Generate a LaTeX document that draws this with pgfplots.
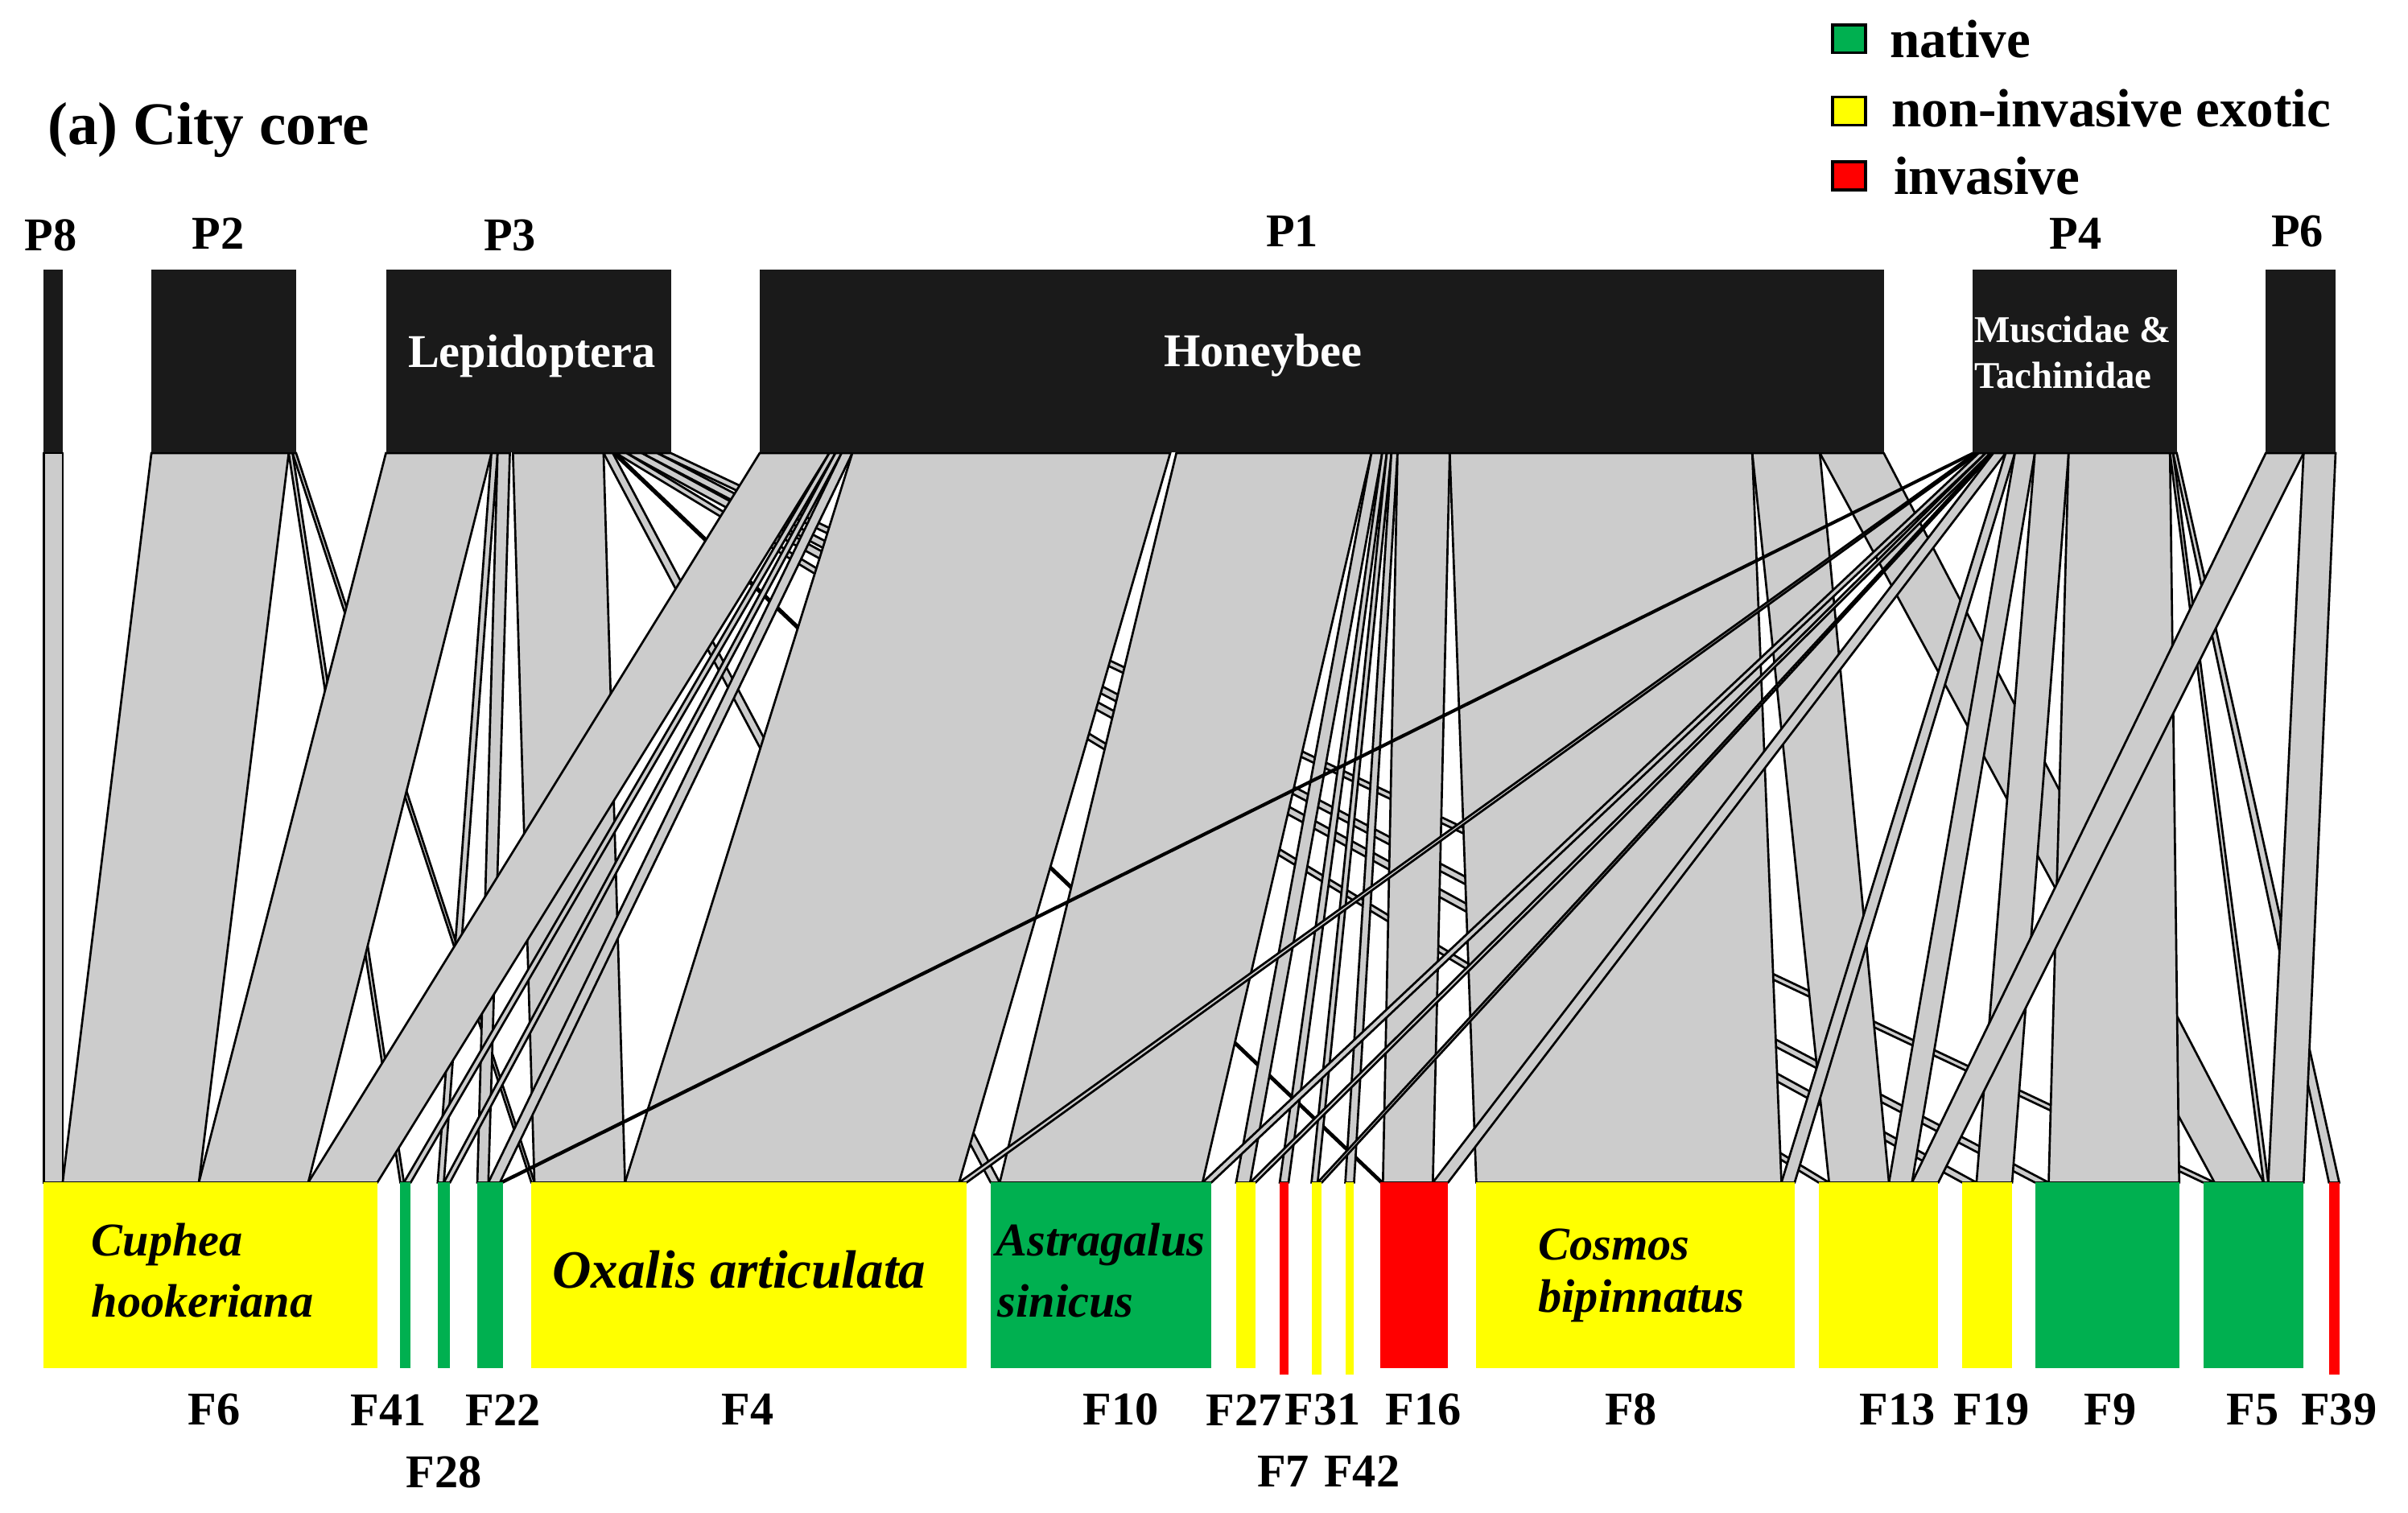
\documentclass[border=0pt]{standalone}
\usepackage{pgfplots}
\pgfplotsset{compat=1.18}
\usepackage{fontspec}
\setmainfont{Liberation Serif}
\definecolor{linkgray}{HTML}{CCCCCC}
\definecolor{boxblack}{HTML}{1A1A1A}
\definecolor{nyellow}{HTML}{FFFF00}
\definecolor{ngreen}{HTML}{00B050}
\definecolor{nred}{HTML}{FF0000}
% link: top x1,x2 (upper level) -> bottom x3,x4 (lower level)
\newcommand{\lnk}[4]{\addplot[fill=linkgray, draw=black, line width=0.4pt] coordinates {(#1,295) (#2,295) (#4,770) (#3,770)} -- cycle;}
\newcommand{\ubox}[2]{\addplot[fill=boxblack, draw=none] coordinates {(#1,175.6) (#2,175.6) (#2,294.5) (#1,294.5)} -- cycle;}
\newcommand{\lbox}[4]{\addplot[fill=#3, draw=none] coordinates {(#1,770) (#2,770) (#2,#4) (#1,#4)} -- cycle;}
\newcommand{\lgd}[3]{\addplot[fill=#1, draw=black, line width=0.5pt] coordinates {(1193.2,#2) (1214.7,#2) (1214.7,#3) (1193.2,#3)} -- cycle;}
\newcommand{\fslab}{\fontsize{8.7}{10}\selectfont\bfseries}
\newcommand{\fsit}{\fontsize{8.7}{10}\selectfont\bfseries\itshape}
\begin{document}
\begin{tikzpicture}
\begin{axis}[
  width=15.68cm, height=9.85cm, scale only axis,
  xmin=0, xmax=1568, ymin=0, ymax=985, y dir=reverse,
  axis lines=none, clip=false,
]
\addplot[draw=none] coordinates {(0,0) (1568,985)};
% ---------------- links ----------------
% P8
\lnk{28.4}{40.8}{28.4}{40.8}
% P2
\lnk{98.6}{188}{40.8}{129.5}
\lnk{188}{190.5}{260.7}{263}
\lnk{190.5}{192.8}{346}{348}
% P3
\lnk{251.3}{320}{129.5}{200.7}
\lnk{320}{324}{285}{289}
\lnk{324}{332}{310.8}{318}
\lnk{334}{393}{348}{407}
\lnk{393}{399}{645.1}{651}
\lnk{399}{401}{899}{900.5}
\lnk{401}{408}{1184.2}{1191}
\lnk{408}{418}{1277.7}{1287}
\lnk{418}{428}{1325.1}{1334}
\lnk{428}{436.8}{1434.6}{1442}
% P1
\lnk{494.7}{540}{200.7}{245.7}
\lnk{540}{544}{263}{267.4}
\lnk{544}{548}{289}{293}
\lnk{548}{555}{318}{325.5}
\lnk{555}{762}{407}{624.5}
\lnk{766}{893}{651}{783}
\lnk{893}{900}{804.9}{814}
\lnk{900}{903}{833.3}{839}
\lnk{903}{906}{854}{858}
\lnk{906}{910}{876}{881.7}
\lnk{910}{944}{900.5}{933}
\lnk{944}{1141}{961.3}{1160}
\lnk{1141}{1185}{1191}{1230}
\lnk{1185}{1226.6}{1442}{1474}
% P4
\lnk{1284.4}{1286}{325.5}{327.5}
\lnk{1286}{1288.5}{624.5}{629.4}
\lnk{1288.5}{1293}{783}{788.8}
\lnk{1293}{1296}{814}{817.6}
\lnk{1296}{1298}{858}{860.7}
\lnk{1298}{1306}{933}{942.9}
\lnk{1306}{1312}{1160}{1168.6}
\lnk{1312}{1325}{1230}{1245}
\lnk{1325}{1347}{1287}{1310.2}
\lnk{1347}{1413}{1334}{1419}
\lnk{1413}{1415}{1474}{1477}
\lnk{1415}{1417.4}{1516.5}{1523.2}
% P6
\lnk{1475.4}{1500}{1245}{1262.1}
\lnk{1500}{1520.8}{1477}{1500}
% ---------------- upper boxes ----------------
\ubox{28.4}{40.8}
\ubox{98.6}{192.8}
\ubox{251.3}{436.8}
\ubox{494.7}{1226.6}
\ubox{1284.4}{1417.4}
\ubox{1475.4}{1520.8}
% ---------------- lower boxes ----------------
\lbox{28.4}{245.7}{nyellow}{891}
\lbox{260.7}{267.4}{ngreen}{891}
\lbox{285}{293}{ngreen}{891}
\lbox{310.8}{327.5}{ngreen}{891}
\lbox{346}{629.4}{nyellow}{891}
\lbox{645.1}{788.8}{ngreen}{891}
\lbox{804.9}{817.6}{nyellow}{891}
\lbox{833.3}{839}{nred}{895}
\lbox{854}{860.7}{nyellow}{895}
\lbox{876}{881.7}{nyellow}{895}
\lbox{899}{942.9}{nred}{891}
\lbox{961.3}{1168.6}{nyellow}{891}
\lbox{1184.2}{1262.1}{nyellow}{891}
\lbox{1277.7}{1310.2}{nyellow}{891}
\lbox{1325.1}{1419}{ngreen}{891}
\lbox{1434.6}{1500}{ngreen}{891}
\lbox{1516.5}{1523.2}{nred}{895}
% ---------------- legend ----------------
\lgd{ngreen}{16.2}{34.4}
\lgd{nyellow}{63.2}{81.4}
\lgd{nred}{105.4}{123.6}
% ---------------- text ----------------
\node[anchor=west, inner sep=0pt, font=\fontsize{11.2}{13}\selectfont\bfseries] at (axis cs:30.4,84.7) {(a) City core};
\node[anchor=west, inner sep=0pt, font=\fontsize{10}{12}\selectfont\bfseries] at (axis cs:1229.8,25.3) {native};
\node[anchor=west, inner sep=0pt, font=\fontsize{10}{12}\selectfont\bfseries] at (axis cs:1231,70.5) {non-invasive exotic};
\node[anchor=west, inner sep=0pt, font=\fontsize{10}{12}\selectfont\bfseries] at (axis cs:1232.4,114.5) {invasive};
\node[font=\fslab] at (axis cs:33,153) {P8};
\node[font=\fslab] at (axis cs:142,152) {P2};
\node[font=\fslab] at (axis cs:332,153) {P3};
\node[font=\fslab] at (axis cs:841.5,150.5) {P1};
\node[font=\fslab] at (axis cs:1351.5,152) {P4};
\node[font=\fslab] at (axis cs:1496,150.5) {P6};
\node[font=\fslab, text=white] at (axis cs:346.4,232) {Lepidoptera};
\node[font=\fslab, text=white] at (axis cs:822.4,231.5) {Honeybee};
\node[anchor=west, font=\fontsize{7}{8}\selectfont\bfseries, text=white, inner sep=0pt] at (axis cs:1285,214.5) {Muscidae \&};
\node[anchor=west, font=\fontsize{7}{8}\selectfont\bfseries, text=white, inner sep=0pt] at (axis cs:1285,244.6) {Tachinidae};
\node[anchor=west, font=\fsit, inner sep=0pt] at (axis cs:59,810.6) {Cuphea};
\node[anchor=west, font=\fsit, inner sep=0pt] at (axis cs:59,847.3) {hookeriana};
\node[anchor=west, font=\fontsize{10}{12}\selectfont\bfseries\itshape, inner sep=0pt] at (axis cs:359,827) {Oxalis articulata};
\node[anchor=west, font=\fsit, inner sep=0pt] at (axis cs:648,810.6) {Astragalus};
\node[anchor=west, font=\fsit, inner sep=0pt] at (axis cs:649,847.3) {sinicus};
\node[anchor=west, font=\fsit, inner sep=0pt] at (axis cs:1001,810.6) {Cosmos};
\node[anchor=west, font=\fsit, inner sep=0pt] at (axis cs:1001,847.3) {bipinnatus};
\node[font=\fslab] at (axis cs:139.6,918) {F6};
\node[font=\fslab] at (axis cs:253,918) {F41};
\node[font=\fslab] at (axis cs:327.6,918) {F22};
\node[font=\fslab] at (axis cs:289,958.6) {F28};
\node[font=\fslab] at (axis cs:487,918) {F4};
\node[font=\fslab] at (axis cs:729.7,918) {F10};
\node[font=\fslab] at (axis cs:810,918) {F27};
\node[font=\fslab] at (axis cs:861.5,918) {F31};
\node[font=\fslab] at (axis cs:927,918) {F16};
\node[font=\fslab] at (axis cs:835.7,958) {F7};
\node[font=\fslab] at (axis cs:886.8,958) {F42};
\node[font=\fslab] at (axis cs:1062,918) {F8};
\node[font=\fslab] at (axis cs:1235.6,918) {F13};
\node[font=\fslab] at (axis cs:1297,918) {F19};
\node[font=\fslab] at (axis cs:1374,918) {F9};
\node[font=\fslab] at (axis cs:1467,918) {F5};
\node[font=\fslab] at (axis cs:1523,918) {F39};
\end{axis}
\end{tikzpicture}
\end{document}
